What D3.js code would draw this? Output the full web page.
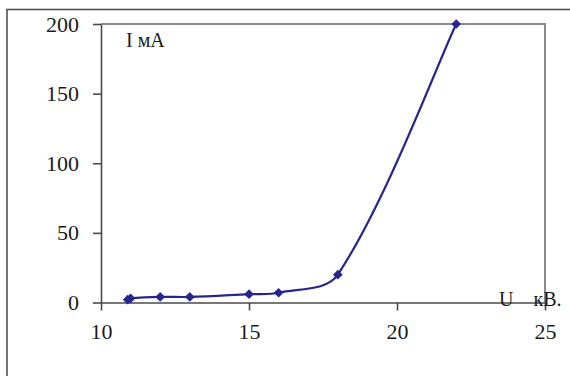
<!DOCTYPE html>
<html>
<head>
<meta charset="utf-8">
<script src="https://cdn.jsdelivr.net/npm/d3@7"></script>
<style>
  html, body { margin: 0; padding: 0; background: #fff; }
  svg { display: block; }
  text { font-family: "Liberation Serif", "Times New Roman", serif; fill: #1a1a1a; }
</style>
</head>
<body>
<svg id="chart" width="570" height="376"></svg>
<script>
const voltage = [10.9, 11, 12, 13, 15, 16, 18, 22];
const current = [2, 3, 4, 4, 6, 7, 20, 200];
const xTicks = [10, 15, 20, 25];
const yTicks = [0, 50, 100, 150, 200];
const yLabel = "I мА";
const xLabel = "U\u00a0\u00a0\u00a0\u00a0кВ.";

(function () {
const svg = d3.select("#chart");
const pLeft = 101, pRight = 545, pTop = 24, pBottom = 302.5;

// Excel-like smoothing: tangent along (P[i+1]-P[i-1]), arm lengths weighted by neighbouring segment lengths
function excelSmooth(context) {
  let pts = [];
  return {
    areaStart() {}, areaEnd() {},
    lineStart() { pts = []; },
    point(px, py) { pts.push([+px, +py]); },
    lineEnd() {
      const n = pts.length;
      if (!n) return;
      context.moveTo(pts[0][0], pts[0][1]);
      if (n === 1) return;
      const dist = (a, b) => Math.hypot(b[0] - a[0], b[1] - a[1]);
      const armOut = [], armIn = [];
      for (let i = 0; i < n; i++) {
        let t, fin, fout;
        if (i === 0) {
          t = [pts[1][0] - pts[0][0], pts[1][1] - pts[0][1]];
          fout = 1 / 6; fin = 0;
        } else if (i === n - 1) {
          t = [pts[i][0] - pts[i - 1][0], pts[i][1] - pts[i - 1][1]];
          fin = 1 / 6; fout = 0;
        } else {
          t = [pts[i + 1][0] - pts[i - 1][0], pts[i + 1][1] - pts[i - 1][1]];
          const d0 = dist(pts[i - 1], pts[i]), d1 = dist(pts[i], pts[i + 1]);
          const s = d0 + d1 || 1;
          fin = d0 / s / 3; fout = d1 / s / 3;
        }
        armIn.push([t[0] * fin, t[1] * fin]);
        armOut.push([t[0] * fout, t[1] * fout]);
      }
      for (let i = 0; i < n - 1; i++) {
        const a = pts[i], b = pts[i + 1];
        context.bezierCurveTo(
          a[0] + armOut[i][0], a[1] + armOut[i][1],
          b[0] - armIn[i + 1][0], b[1] - armIn[i + 1][1],
          b[0], b[1]);
      }
    }
  };
}

// outer frame (extends past the picture on right and bottom)
svg.append("rect")
  .attr("x", 7).attr("y", 9.5)
  .attr("width", 700).attr("height", 500)
  .attr("fill", "none").attr("stroke", "#505050").attr("stroke-width", 1.6);

const x = d3.scaleLinear().domain([10, 25]).range([pLeft, pRight]);
const y = d3.scaleLinear().domain([0, 200]).range([pBottom, pTop]);

// plot area border (top and right)
svg.append("path")
  .attr("d", `M${pLeft},${pTop}H${pRight}V${pBottom}`)
  .attr("fill", "none").attr("stroke", "#8c8c8c").attr("stroke-width", 2);

const xAxis = svg.append("g")
  .attr("transform", `translate(0,${pBottom})`)
  .call(d3.axisBottom(x).tickValues(xTicks).tickSize(8).tickSizeOuter(0).tickPadding(13));
const yAxis = svg.append("g")
  .attr("transform", `translate(${pLeft},0)`)
  .call(d3.axisLeft(y).tickValues(yTicks).tickSize(8).tickSizeOuter(0).tickPadding(14));

[xAxis, yAxis].forEach(g => {
  g.select(".domain").attr("stroke", "#4a4a4a").attr("stroke-width", 1.6);
  g.selectAll(".tick line").attr("stroke", "#4a4a4a").attr("stroke-width", 1.6);
  g.selectAll(".tick text")
    .attr("font-family", "Liberation Serif, serif")
    .attr("font-size", 22).attr("fill", "#1a1a1a");
});

const data = voltage.map((v, i) => ({ u: v, i: current[i] }));

const line = d3.line()
  .x(d => x(d.u)).y(d => y(d.i))
  .curve(excelSmooth);

svg.append("path")
  .datum(data)
  .attr("d", line)
  .attr("fill", "none")
  .attr("stroke", "#26268f")
  .attr("stroke-width", 2.2);

svg.selectAll(".pt")
  .data(data)
  .enter().append("path")
  .attr("class", "pt")
  .attr("transform", d => `translate(${x(d.u)},${y(d.i)})`)
  .attr("d", d3.symbol().type(d3.symbolDiamond2).size(60))
  .attr("fill", "#26268f");

svg.append("text")
  .attr("x", 126).attr("y", 47)
  .attr("font-size", 20)
  .text(yLabel);

svg.append("text")
  .attr("x", 499).attr("y", 306)
  .attr("font-size", 20)
  .style("white-space", "pre")
  .text(xLabel);
})();
</script>
</body>
</html>
